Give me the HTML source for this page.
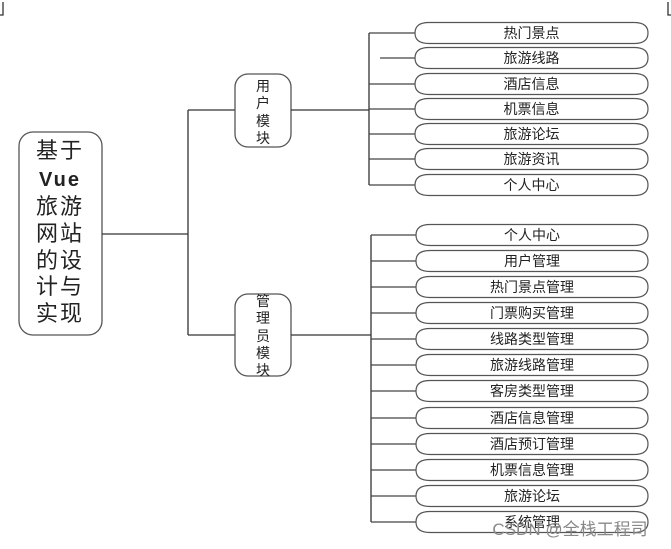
<!DOCTYPE html>
<html><head><meta charset="utf-8"><style>
html,body{margin:0;padding:0;background:#fff;width:671px;height:549px;overflow:hidden}
svg text{font-family:"Liberation Sans","Noto Sans CJK SC",sans-serif;fill:#222}
</style></head><body>
<svg width="671" height="549" xmlns="http://www.w3.org/2000/svg">
<g stroke="#333" stroke-width="1.3" fill="none">
<path d="M3 2 V15 H0"/><path d="M668 2 V15 H671"/>
<rect x="19" y="132" width="83" height="203" rx="14" stroke="#555"/>
<path d="M102 234 H188 M188 110 V335 M188 110 H235 M188 335 H235"/>
<rect x="235" y="74" width="56" height="73" rx="13" stroke="#555"/>
<rect x="235" y="294" width="56" height="82" rx="13" stroke="#555"/>
<path d="M291 110 H369 M369 33 V185"/>
<path d="M291 335 H371 M371 235 V522"/>
</g>
<text x="60" y="158" font-size="22" text-anchor="middle" letter-spacing="2">基于</text>
<text x="60" y="186" font-size="20" text-anchor="middle" font-weight="bold" letter-spacing="2">Vue</text>
<text x="60" y="214" font-size="22" text-anchor="middle" letter-spacing="2">旅游</text>
<text x="60" y="241" font-size="22" text-anchor="middle" letter-spacing="2">网站</text>
<text x="60" y="268" font-size="22" text-anchor="middle" letter-spacing="2">的设</text>
<text x="60" y="294" font-size="22" text-anchor="middle" letter-spacing="2">计与</text>
<text x="60" y="321" font-size="22" text-anchor="middle" letter-spacing="2">实现</text>
<g font-size="14" text-anchor="middle">
<text x="263" y="91">用</text><text x="263" y="108">户</text><text x="263" y="126">模</text><text x="263" y="143">块</text>
<text x="263" y="306">管</text><text x="263" y="323">理</text><text x="263" y="341">员</text><text x="263" y="358">模</text><text x="263" y="375">块</text>
</g>
<g id="items" stroke="#444" stroke-width="1.2" fill="#fff" font-size="14">
</g>
<script>
var g=document.getElementById('items');
function item(x0,cy,t,connectX){
 var h=21,x1=648;
 var l=document.createElementNS('http://www.w3.org/2000/svg','path');
 l.setAttribute('d','M'+connectX+' '+cy+' H'+x0);l.setAttribute('fill','none');g.appendChild(l);
 var p=document.createElementNS('http://www.w3.org/2000/svg','path');
 var y0=cy-h/2,y1=cy+h/2;
 p.setAttribute('d','M'+(x0+14)+' '+y0+' H'+(x1-14)+' Q'+(x1)+' '+y0+' '+x1+' '+cy+' Q'+x1+' '+y1+' '+(x1-14)+' '+y1+' H'+(x0+14)+' Q'+x0+' '+y1+' '+x0+' '+cy+' Q'+x0+' '+y0+' '+(x0+14)+' '+y0+' Z');
 p.setAttribute('stroke','#555');g.appendChild(p);
 var tx=document.createElementNS('http://www.w3.org/2000/svg','text');
 tx.setAttribute('x',(x0+x1)/2);tx.setAttribute('y',cy+5);tx.setAttribute('text-anchor','middle');tx.setAttribute('stroke','none');tx.setAttribute('fill','#222');
 tx.textContent=t;g.appendChild(tx);
}
var u=[[33,'热门景点'],[58,'旅游线路'],[84,'酒店信息'],[109,'机票信息'],[134,'旅游论坛'],[159,'旅游资讯'],[185,'个人中心']];
u.forEach(function(a,i){item(415,a[0],a[1],i==1?380:369);});
var m=[[235,'个人中心'],[261,'用户管理'],[287,'热门景点管理'],[313,'门票购买管理'],[339,'线路类型管理'],[365,'旅游线路管理'],[391,'客房类型管理'],[418,'酒店信息管理'],[444,'酒店预订管理'],[470,'机票信息管理'],[496,'旅游论坛'],[522,'系统管理']];
m.forEach(function(a){item(416,a[0],a[1],371);});
</script>
<text x="570" y="535" font-size="17" text-anchor="middle" style="fill:#888">CSDN @全栈工程司</text>
</svg>
</body></html>
